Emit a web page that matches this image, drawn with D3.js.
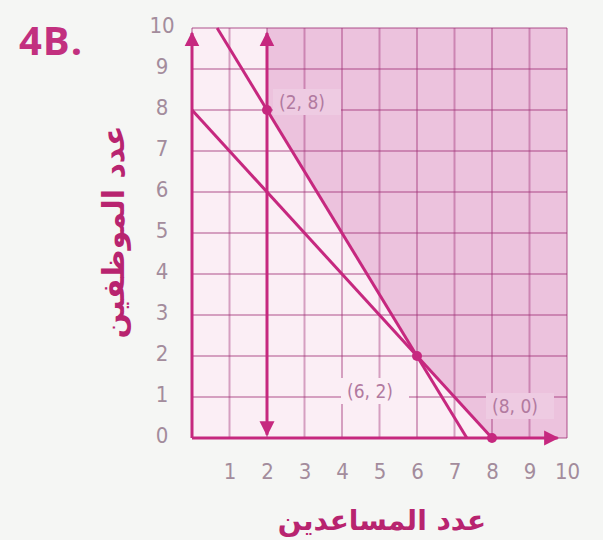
<!DOCTYPE html>
<html>
<head>
<meta charset="utf-8">
<script src="https://cdn.jsdelivr.net/npm/d3@7"></script>
<style>
  html, body { margin: 0; padding: 0; background: #f5f6f4; }
  svg { display: block; }
</style>
</head>
<body>
<svg id="chart" width="603" height="540"></svg>
<script>
// Axis ticks
const xTicks = [1, 2, 3, 4, 5, 6, 7, 8, 9, 10];
const yTicks = [0, 1, 2, 3, 4, 5, 6, 7, 8, 9, 10];
const gridValues = [0, 1, 2, 3, 4, 5, 6, 7, 8, 9, 10];

// Boundary lines of the constraints
const lineSum = [[0, 8], [8, 0]];          // x + y = 8
const lineSteep = [[0.67, 10], [7.33, 0]]; // 3x + 2y = 22
const lineVertical = [[2, 0.08], [2, 9.88]]; // x = 2

// Feasible region corners
const region = [[2, 10], [2, 8], [6, 2], [8, 0], [10, 0], [10, 10]];

// Labelled vertices
const vertices = [
  { x: 2, y: 8, label: "(2, 8)", dx: 10, dy: -6, fill: "#eecbe2" },
  { x: 6, y: 2, label: "(6, 2)", dx: -72, dy: 37, fill: "#fbeef5" },
  { x: 8, y: 0, label: "(8, 0)", dx: -2, dy: -30, fill: "#eecbe2" }
];

const magenta = "#c6287f";
const tickColor = "#a38c9c";
const digitFont = "'DejaVu Sans Condensed', 'Liberation Sans Narrow', Roboto, sans-serif";

const svg = d3.select("#chart");
const x = d3.scaleLinear().domain([0, 10]).range([192, 567]);
const y = d3.scaleLinear().domain([0, 10]).range([438, 28]);

const defs = svg.append("defs");
defs.append("marker")
  .attr("id", "arrow")
  .attr("viewBox", "0 0 10 10")
  .attr("refX", 9).attr("refY", 5)
  .attr("markerWidth", 5).attr("markerHeight", 5.5)
  .attr("markerUnits", "strokeWidth")
  .attr("orient", "auto-start-reverse")
  .append("path")
  .attr("d", "M0,0 L10,5 L0,10 Z")
  .attr("fill", magenta);

// Grid background
svg.append("rect")
  .attr("x", x(0)).attr("y", y(10))
  .attr("width", x(10) - x(0)).attr("height", y(0) - y(10))
  .attr("fill", "#fbeef5");

// Shaded region
svg.append("path")
  .datum(region)
  .attr("d", d3.line().x(d => x(d[0])).y(d => y(d[1])).curve(d3.curveLinearClosed))
  .attr("fill", "#ecc2dd");

// Grid lines
const grid = svg.append("g")
  .attr("stroke", "rgba(160,50,120,0.42)")
  .attr("stroke-width", 2);
grid.selectAll(".gv").data(gridValues).join("line")
  .attr("x1", d => x(d)).attr("x2", d => x(d))
  .attr("y1", y(0)).attr("y2", y(10));
grid.selectAll(".gh").data(gridValues).join("line")
  .attr("x1", x(0)).attr("x2", x(10))
  .attr("y1", d => y(d)).attr("y2", d => y(d));

// Axes lines with arrows
svg.append("line")
  .attr("x1", x(0)).attr("y1", y(0))
  .attr("x2", x(9.75)).attr("y2", y(0))
  .attr("stroke", magenta).attr("stroke-width", 3)
  .attr("marker-end", "url(#arrow)");
svg.append("line")
  .attr("x1", x(0)).attr("y1", y(0))
  .attr("x2", x(0)).attr("y2", y(9.88))
  .attr("stroke", magenta).attr("stroke-width", 3)
  .attr("marker-end", "url(#arrow)");

// Tick labels via D3 axes
const xAxis = svg.append("g")
  .attr("transform", `translate(0, ${y(0) + 22})`)
  .call(d3.axisBottom(x).tickValues(xTicks).tickSize(0).tickFormat(d3.format("d")));
xAxis.select(".domain").remove();
xAxis.selectAll("text")
  .attr("fill", tickColor)
  .style("font-family", digitFont)
  .style("font-size", "22px");

const yAxis = svg.append("g")
  .attr("transform", `translate(${x(0) - 22}, -3)`)
  .call(d3.axisLeft(y).tickValues(yTicks).tickSize(0).tickFormat(d3.format("d")));
yAxis.select(".domain").remove();
yAxis.selectAll("text")
  .attr("text-anchor", "middle")
  .attr("x", -8)
  .attr("fill", tickColor)
  .style("font-family", digitFont)
  .style("font-size", "22px");

// Boundary lines
const lineGen = d3.line().x(d => x(d[0])).y(d => y(d[1]));
[lineSum, lineSteep].forEach(pts => {
  svg.append("path").datum(pts)
    .attr("d", lineGen)
    .attr("fill", "none")
    .attr("stroke", magenta)
    .attr("stroke-width", 3);
});
svg.append("path").datum(lineVertical)
  .attr("d", lineGen)
  .attr("fill", "none")
  .attr("stroke", magenta)
  .attr("stroke-width", 3)
  .attr("marker-start", "url(#arrow)")
  .attr("marker-end", "url(#arrow)");

// Vertex labels with backing boxes
const lab = svg.selectAll(".vlabel").data(vertices).join("g")
  .attr("transform", d => `translate(${x(d.x) + d.dx}, ${y(d.y) + d.dy})`);
lab.append("rect")
  .attr("x", -4).attr("y", -15)
  .attr("width", 68).attr("height", 26)
  .attr("fill", d => d.fill);
lab.append("text")
  .attr("x", 2).attr("y", 5)
  .attr("fill", "#b27aa0")
  .style("font-family", digitFont)
  .style("font-size", "19px")
  .text(d => d.label);

// Vertex dots
svg.selectAll(".dot").data(vertices).join("circle")
  .attr("cx", d => x(d.x)).attr("cy", d => y(d.y))
  .attr("r", 5)
  .attr("fill", magenta);

// Title
svg.append("text")
  .attr("x", 19).attr("y", 55)
  .attr("fill", "#c2307f")
  .style("font-family", "'Open Sans', 'DejaVu Sans', sans-serif")
  .style("font-weight", "bold")
  .style("font-size", "40px")
  .style("letter-spacing", "1px")
  .text("4B.");

// Axis titles
svg.append("text")
  .attr("x", 382).attr("y", 530)
  .attr("text-anchor", "middle")
  .attr("fill", "#b8246f")
  .style("font-family", "'DejaVu Sans', sans-serif")
  .style("font-weight", "bold")
  .style("font-size", "28px")
  .text("عدد المساعدين");

svg.append("text")
  .attr("transform", "translate(124, 232) rotate(-90)")
  .attr("text-anchor", "middle")
  .attr("fill", "#b8246f")
  .style("font-family", "'DejaVu Sans', sans-serif")
  .style("font-weight", "bold")
  .style("font-size", "30px")
  .text("عدد الموظفين");
</script>
</body>
</html>
